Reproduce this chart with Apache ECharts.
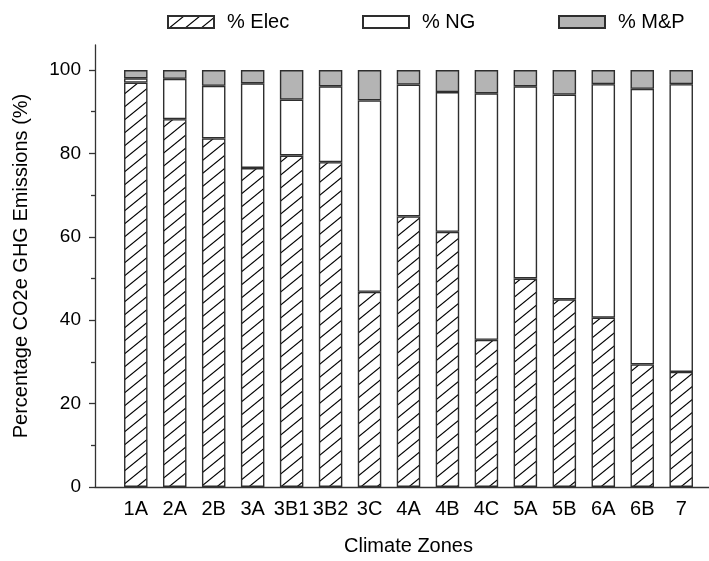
<!DOCTYPE html>
<html>
<head>
<meta charset="utf-8">
<script src="https://cdn.jsdelivr.net/npm/echarts@6/dist/echarts.min.js"></script>
<style>
html,body{margin:0;padding:0;background:#fff;}
#chart{width:709px;height:561px;}
</style>
</head>
<body>
<div id="chart"></div>
<script>
// ---- data ----
const categories = ['1A','2A','2B','3A','3B1','3B2','3C','4A','4B','4C','5A','5B','6A','6B','7'];
const elec = [97.0, 88.2, 83.6, 76.5, 79.5, 77.9, 46.8, 64.9, 61.2, 35.3, 50.0, 45.0, 40.6, 29.4, 27.6];
const ng   = [1.0, 9.7, 12.6, 20.3, 13.4, 18.2, 45.9, 31.6, 33.5, 59.1, 46.1, 49.1, 56.0, 66.1, 69.0];
const mp   = [2.0, 2.1, 3.8, 3.2, 7.1, 3.9, 7.3, 3.5, 5.3, 5.6, 3.9, 5.9, 3.4, 4.5, 3.4];
const yMajorTicks = [0, 20, 40, 60, 80, 100];
const yMinorTicks = [10, 30, 50, 70, 90];
const seriesNames = ['% Elec', '% NG', '% M&P'];

function hatchPattern() {
  const w = 16, h = 13;
  const c = document.createElement('canvas');
  c.width = w; c.height = h;
  const g = c.getContext('2d');
  g.fillStyle = '#ffffff';
  g.fillRect(0, 0, w, h);
  g.strokeStyle = '#000000';
  g.lineWidth = 1.15;
  for (let k = 0; k <= 2; k++) {
    g.beginPath();
    g.moveTo((k + 1) * w, -h);
    g.lineTo((k - 2) * w, 2 * h);
    g.stroke();
  }
  return { image: c, repeat: 'repeat' };
}

const font = "'Liberation Sans', Arial, sans-serif";
const border = { borderColor: '#2e2e2e', borderWidth: 1.4 };
const axisColor = '#333333';
const Y_MAX = 106;

const option = {
  animation: false,
  backgroundColor: '#ffffff',
  textStyle: { fontFamily: font, color: '#000' },
  grid: [
    { left: 95, right: 0, top: 45, bottom: 74 },      // frame grid (axis lines, y labels)
    { left: 116.3, right: 8.3, top: 45, bottom: 74 }  // bar grid
  ],
  legend: [
    { data: [seriesNames[0]], left: 162, top: 7 },
    { data: [seriesNames[1]], left: 357, top: 7 },
    { data: [seriesNames[2]], left: 553, top: 7 }
  ].map(l => Object.assign(l, {
    icon: 'rect', itemWidth: 46, itemHeight: 12, itemGap: 0,
    textStyle: { fontFamily: font, fontSize: 20, color: '#000', padding: [0, 0, 0, 8] }
  })),
  xAxis: [
    {
      gridIndex: 0, type: 'value', min: 0, max: 1,
      axisLine: { show: true, onZero: false, lineStyle: { color: axisColor, width: 1.3 } },
      axisTick: { show: false }, axisLabel: { show: false }, splitLine: { show: false }
    },
    {
      gridIndex: 1, type: 'category', data: categories,
      name: 'Climate Zones', nameLocation: 'middle', nameGap: 49,
      nameTextStyle: { fontFamily: font, fontSize: 20, color: '#000' },
      axisLine: { show: false }, axisTick: { show: false }, splitLine: { show: false },
      axisLabel: { fontFamily: font, fontSize: 20, color: '#000', margin: 12, interval: 0 }
    }
  ],
  yAxis: [
    {
      gridIndex: 0, type: 'value', min: 0, max: Y_MAX,
      name: 'Percentage CO2e GHG Emissions (%)', nameLocation: 'middle', nameGap: 64,
      nameTextStyle: { fontFamily: font, fontSize: 20, color: '#000' },
      axisLine: { show: true, onZero: false, lineStyle: { color: axisColor, width: 1.3 } },
      axisTick: { show: true, customValues: yMajorTicks, length: 6, lineStyle: { color: axisColor, width: 1.3 } },
      axisLabel: { customValues: yMajorTicks, fontFamily: font, fontSize: 19, color: '#000', margin: 14 },
      splitLine: { show: false }
    },
    {
      gridIndex: 0, type: 'value', min: 0, max: Y_MAX, position: 'left', offset: 0,
      axisLine: { show: false, onZero: false },
      axisTick: { show: true, customValues: yMinorTicks, length: 4, lineStyle: { color: axisColor, width: 1.3 } },
      axisLabel: { show: false },
      splitLine: { show: false }
    },
    {
      gridIndex: 1, type: 'value', min: 0, max: Y_MAX, show: false
    }
  ],
  series: [
    { name: seriesNames[0], type: 'bar', stack: 'total', barWidth: 23.5, data: elec,
      xAxisIndex: 1, yAxisIndex: 2,
      itemStyle: Object.assign({ color: hatchPattern() }, border) },
    { name: seriesNames[1], type: 'bar', stack: 'total', barWidth: 23.5, data: ng,
      xAxisIndex: 1, yAxisIndex: 2,
      itemStyle: Object.assign({ color: '#ffffff' }, border) },
    { name: seriesNames[2], type: 'bar', stack: 'total', barWidth: 23.5, data: mp,
      xAxisIndex: 1, yAxisIndex: 2,
      itemStyle: Object.assign({ color: '#b4b4b4' }, border) }
  ]
};

const chart = echarts.init(document.getElementById('chart'), null, { renderer: 'canvas' });
chart.setOption(option);
</script>
</body>
</html>
